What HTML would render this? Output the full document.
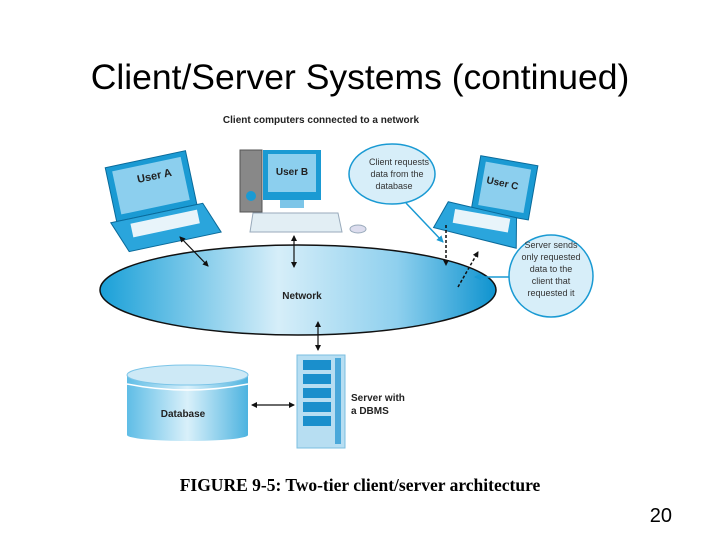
<!DOCTYPE html>
<html><head><meta charset="utf-8"><style>
html,body{margin:0;padding:0;background:#fff;}
</style></head><body>
<svg width="720" height="540" viewBox="0 0 720 540" xmlns="http://www.w3.org/2000/svg" font-family="Liberation Sans, sans-serif">
<defs>
<linearGradient id="eg" x1="0" x2="1" y1="0" y2="0">
<stop offset="0" stop-color="#1aa0d8"/><stop offset="0.45" stop-color="#d6eef9"/><stop offset="0.75" stop-color="#8fd0ee"/><stop offset="1" stop-color="#0e93cf"/></linearGradient>
<linearGradient id="cg" x1="0" x2="1"><stop offset="0" stop-color="#5fbde6"/><stop offset="0.5" stop-color="#d9f0fa"/><stop offset="1" stop-color="#4db3e0"/></linearGradient>
<marker id="ah" markerWidth="6" markerHeight="6" refX="5" refY="3" orient="auto-start-reverse" markerUnits="userSpaceOnUse"><path d="M0,0L6,3L0,6z" fill="#111"/></marker>
<marker id="bh" markerWidth="7" markerHeight="7" refX="6" refY="3.5" orient="auto" markerUnits="userSpaceOnUse"><path d="M0,0L7,3.5L0,7z" fill="#1a9ad3"/></marker>
</defs>
<text x="360" y="89" font-size="35.5" text-anchor="middle" fill="#000">Client/Server Systems (continued)</text>
<text x="321" y="123" font-size="10" font-weight="bold" text-anchor="middle" fill="#222">Client computers connected to a network</text>

<ellipse cx="298" cy="290" rx="198" ry="45" fill="url(#eg)" stroke="#111" stroke-width="1.5"/>
<text x="302" y="299" font-size="10" font-weight="bold" text-anchor="middle" fill="#222">Network</text>

<!-- laptop A -->
<g transform="rotate(-12 155 195)">
<rect x="112" y="158" width="82" height="55" fill="#1a9ad3" stroke="#0a6a9a"/>
<rect x="118" y="163" width="70" height="44" fill="#8ccfee"/>
<polygon points="106,213 200,213 212,245 118,245" fill="#2aa5dc" stroke="#0a6a9a"/>
<rect x="125" y="218" width="68" height="14" fill="#e8f4fa"/>
</g>
<text x="138" y="183" font-size="11" font-weight="bold" fill="#222" transform="rotate(-12 138 183)">User A</text>

<!-- user B -->
<rect x="240" y="150" width="22" height="62" fill="#888" stroke="#555"/>
<circle cx="251" cy="196" r="5" fill="#1a9ad3"/>
<rect x="263" y="150" width="58" height="50" fill="#1a9ad3"/>
<rect x="268" y="154" width="48" height="38" fill="#8ccfee"/>
<text x="292" y="175" font-size="10" font-weight="bold" text-anchor="middle" fill="#222">User B</text>
<rect x="280" y="200" width="24" height="8" fill="#7cc5e8"/>
<polygon points="253,213 338,213 342,232 250,232" fill="#e2eef4" stroke="#9ab"/>
<ellipse cx="358" cy="229" rx="8" ry="4" fill="#dde" stroke="#9ab"/>

<!-- bubble 1 -->
<ellipse cx="392" cy="174" rx="43" ry="30" fill="#d7eef9" stroke="#1a9ad3" stroke-width="1.5"/>
<text font-size="9" fill="#333" text-anchor="middle"><tspan x="399" y="165">Client requests</tspan><tspan x="397" y="177">data from the</tspan><tspan x="394" y="189">database</tspan></text>
<line x1="406" y1="203" x2="443" y2="242" stroke="#1a9ad3" stroke-width="1.5" marker-end="url(#bh)"/>

<!-- laptop C -->
<g transform="rotate(10 485 195)">
<rect x="474" y="157" width="58" height="55" fill="#1a9ad3" stroke="#0a6a9a"/>
<rect x="480" y="162" width="46" height="44" fill="#8ccfee"/>
<polygon points="450,208 520,212 525,242 440,236" fill="#2aa5dc" stroke="#0a6a9a"/>
<rect x="458" y="214" width="56" height="14" fill="#e8f4fa"/>
</g>
<text x="486" y="183" font-size="10" font-weight="bold" fill="#222" transform="rotate(12 486 183)">User C</text>

<!-- bubble 2 -->
<ellipse cx="551" cy="276" rx="42" ry="41" fill="#d7eef9" stroke="#1a9ad3" stroke-width="1.5"/>
<text font-size="9" fill="#333" text-anchor="middle"><tspan x="551" y="248">Server sends</tspan><tspan x="551" y="260">only requested</tspan><tspan x="551" y="272">data to the</tspan><tspan x="551" y="284">client that</tspan><tspan x="551" y="296">requested it</tspan></text>
<line x1="509" y1="277" x2="475" y2="277" stroke="#1a9ad3" stroke-width="1.5" marker-end="url(#bh)"/>

<!-- arrows -->
<line x1="180" y1="237" x2="208" y2="266" stroke="#111" stroke-width="1.2" marker-start="url(#ah)" marker-end="url(#ah)"/>
<line x1="294" y1="236" x2="294" y2="267" stroke="#111" stroke-width="1.2" marker-start="url(#ah)" marker-end="url(#ah)"/>
<line x1="446" y1="225" x2="446" y2="265" stroke="#111" stroke-width="1.5" stroke-dasharray="3,2" marker-end="url(#ah)"/>
<line x1="458" y1="287" x2="478" y2="252" stroke="#111" stroke-width="1.5" stroke-dasharray="3,2" marker-end="url(#ah)"/>
<line x1="318" y1="322" x2="318" y2="350" stroke="#111" stroke-width="1.2" marker-start="url(#ah)" marker-end="url(#ah)"/>
<line x1="252" y1="405" x2="294" y2="405" stroke="#111" stroke-width="1.2" marker-start="url(#ah)" marker-end="url(#ah)"/>

<!-- server -->
<rect x="297" y="355" width="48" height="93" fill="#b7def2" stroke="#7bbfe0"/>
<g fill="#1a8fcc">
<rect x="303" y="360" width="28" height="10"/><rect x="303" y="374" width="28" height="10"/><rect x="303" y="388" width="28" height="10"/><rect x="303" y="402" width="28" height="10"/><rect x="303" y="416" width="28" height="10"/>
</g>
<rect x="335" y="358" width="6" height="86" fill="#4aa8da"/>
<text font-size="10" font-weight="bold" fill="#222"><tspan x="351" y="401">Server with</tspan><tspan x="351" y="414">a DBMS</tspan></text>

<!-- database -->
<rect x="127" y="375" width="121" height="60" fill="url(#cg)"/>
<ellipse cx="187.5" cy="435" rx="60.5" ry="6" fill="url(#cg)"/>
<ellipse cx="187.5" cy="375" rx="60.5" ry="10" fill="#cde9f6" stroke="#7cc5e8"/>
<path d="M127,384 Q187,396 248,384" fill="none" stroke="#fff" stroke-width="1.5"/>
<text x="183" y="417" font-size="10" font-weight="bold" text-anchor="middle" fill="#222">Database</text>

<text x="360" y="491" font-family="Liberation Serif, serif" font-size="17.5" font-weight="bold" text-anchor="middle" fill="#000">FIGURE 9-5: Two-tier client/server architecture</text>
<text x="672" y="522" font-size="20" text-anchor="end" fill="#000">20</text>
</svg>
</body></html>
